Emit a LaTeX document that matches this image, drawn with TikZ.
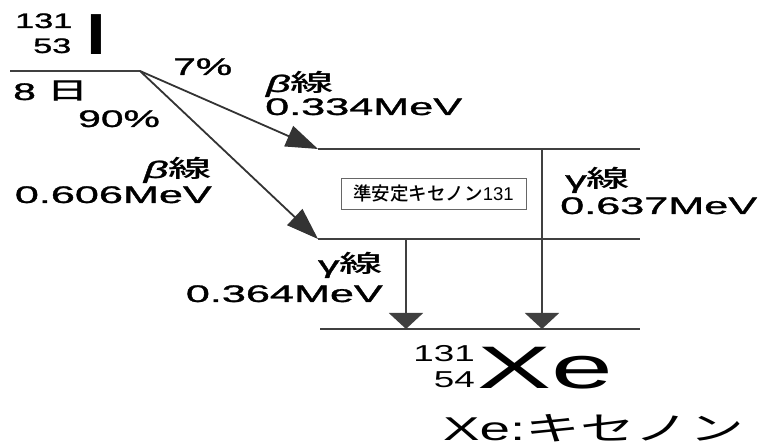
\documentclass[tikz,border=0pt]{standalone}
\usepackage{graphicx}
\usepackage{fontspec}
\setmainfont{Liberation Sans}
\newfontfamily\jp{Noto Sans CJK JP}
\newfontfamily\jpm{Noto Sans CJK JP Medium}
\usetikzlibrary{arrows.meta}
\newcommand\hsx[2]{\scalebox{#1}[1]{#2}}
\tikzset{
  lbl/.style={inner sep=0pt, font=\fontsize{24bp}{26bp}\selectfont\addfontfeature{FakeBold=1}},
  small/.style={inner sep=0pt, font=\fontsize{21bp}{23bp}\selectfont\addfontfeature{FakeBold=1}},
  level/.style={draw=black!75, line width=2bp},
  darr/.style={draw=black!80, line width=1.8bp, -{Triangle[length=32bp,width=22bp]}},
  varr/.style={draw=black!75, line width=2bp, -{Triangle[length=16bp,width=34bp]}},
}
\begin{document}
\begin{tikzpicture}[x=1bp,y=-1bp]
\useasboundingbox (0,0) rectangle (763,446);
% iodine symbol
\node[small, anchor=base west] (ia) at (15,28) {\hsx{1.63}{131}};
\node[small, anchor=base west] (iz) at (33,53) {\hsx{1.63}{53}};
\node[inner sep=0pt, anchor=base, font=\fontsize{58bp}{60bp}\selectfont] (isym) at (96,55) {\hsx{1.85}{I}};
% ground level of I-131
\coordinate (i0) at (10,71);
\coordinate (s) at (140,71);
\draw[level] (i0) -- (s);
\node[lbl, anchor=base west] (half) at (13,100) {\hsx{1.7}{8 {\jpm 日}}};
\node[lbl, anchor=base west] (p90) at (78,127) {\hsx{1.7}{90\%}};
\node[lbl, anchor=base west] (p7) at (173,75) {\hsx{1.7}{7\%}};
% levels
\coordinate (l1a) at (318,149);
\coordinate (l1b) at (640,149);
\coordinate (l2a) at (318,239);
\coordinate (l2b) at (640,239);
\coordinate (l0a) at (320,329);
\coordinate (l0b) at (640,329);
\draw[level] (l1a) -- (l1b);
\draw[level] (l2a) -- (l2b);
\draw[level] (l0a) -- (l0b);
% beta arrows
\draw[darr] (s) -- (l1a);
\draw[darr] (s) -- (l2a);
\node[lbl, anchor=base west] (b1) at (266,92) {\hsx{1.8}{\textit{β}{\jpm 線}}};
\node[lbl, anchor=base west] (e1) at (265,115) {\hsx{1.8}{0.334MeV}};
\node[lbl, anchor=base east] (b2) at (212,178) {\hsx{1.8}{\textit{β}{\jpm 線}}};
\node[lbl, anchor=base east] (e2) at (212,203) {\hsx{1.8}{0.606MeV}};
% metastable box
\node[draw=black!60, line width=0.8bp, minimum width=185bp, minimum height=31bp, inner sep=0pt,
      font=\fontsize{18.5bp}{20bp}\selectfont] (meta) at (433.5,193.5) {{\jpm 準安定キセノン}131};
% gamma arrows
\coordinate (g1t) at (542,149);
\coordinate (g1b) at (542,329);
\coordinate (g2t) at (406,239);
\coordinate (g2b) at (406,329);
\draw[varr] (g1t) -- (g1b);
\draw[varr] (g2t) -- (g2b);
\node[lbl, anchor=base west] (c1) at (565,188) {\hsx{1.8}{γ{\jpm 線}}};
\node[lbl, anchor=base west] (f1) at (560,214) {\hsx{1.8}{0.637MeV}};
\node[lbl, anchor=base east] (c2) at (383,273) {\hsx{1.8}{γ{\jpm 線}}};
\node[lbl, anchor=base east] (f2) at (383,302) {\hsx{1.8}{0.364MeV}};
% xenon symbol
\node[inner sep=0pt, anchor=base east, font=\fontsize{23bp}{25bp}\selectfont] (xa) at (475,362) {\hsx{1.6}{131}};
\node[inner sep=0pt, anchor=base east, font=\fontsize{23bp}{25bp}\selectfont] (xz) at (475,387) {\hsx{1.6}{54}};
\node[inner sep=0pt, anchor=base west, font=\fontsize{60bp}{62bp}\selectfont] (xsym) at (477,388) {\hsx{1.85}{Xe}};
\node[inner sep=0pt, anchor=base west, font=\fontsize{33bp}{35bp}\selectfont] (xname) at (443,440) {\hsx{1.66}{Xe:{\jp キセノン}}};
\end{tikzpicture}
\end{document}
